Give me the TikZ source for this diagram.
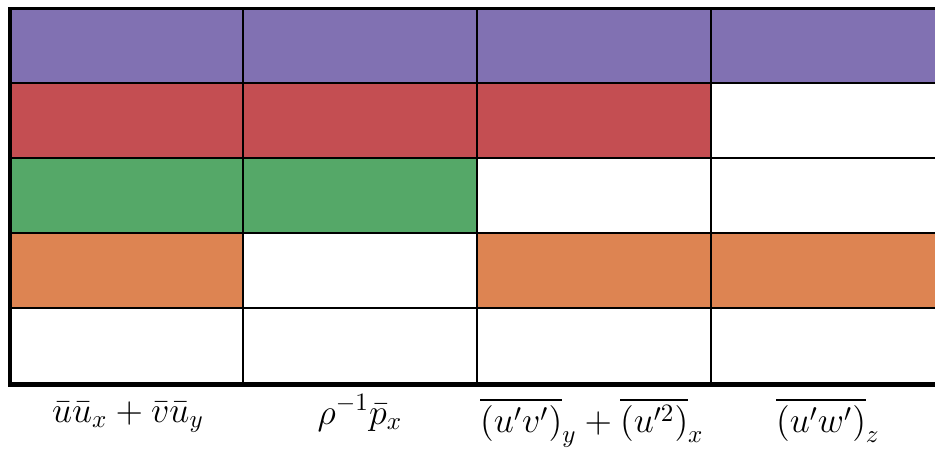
\documentclass[tikz,border=0pt]{standalone}
\usepackage{amsmath}
\definecolor{cpurple}{RGB}{129,113,178}
\definecolor{cred}{RGB}{196,78,82}
\definecolor{cgreen}{RGB}{85,168,104}
\definecolor{corange}{RGB}{221,132,82}
\tikzset{
  gridline/.style={line width=0.8pt, black},
  outerline/.style={line width=1.7pt, black},
  lbl/.style={anchor=base, inner sep=0pt, font=\fontsize{14.4}{17}\selectfont}
}
\begin{document}
\begin{tikzpicture}[x=0.4pt,y=-0.4pt]
\useasboundingbox (0,0) rectangle (935,454);
\begin{scope}
\clip (0,0) rectangle (935,454);
% fills
\fill[cpurple] (10,8) rectangle (960,83);
\fill[cred] (10,83) rectangle (711,158);
\fill[cgreen] (10,158) rectangle (477,233);
\fill[corange] (10,233) rectangle (243,308);
\fill[corange] (477,233) rectangle (960,308);
% horizontal lines
\foreach \yy in {83,158,233,308} \draw[gridline] (10,\yy) -- (960,\yy);
% vertical lines
\foreach \xx in {243,477,711} \draw[gridline] (\xx,8) -- (\xx,384);
% outer frame
\draw[line width=1.2pt] (8,8) -- (960,8);
\draw[outerline] (10,7) -- (10,385);
\draw[line width=2pt] (8,384) -- (960,384);
\end{scope}
% labels
\node[lbl] (l1) at (128,422) {$\bar u\bar u_x + \bar v\bar u_y$};
\node[lbl] (l2) at (360,424) {$\rho^{-1}\bar p_x$};
\node[lbl] (l3) at (592,432) {$\overline{(u'v')}_y + \overline{(u'^2)}_x$};
\node[lbl] (l4) at (828,432) {$\overline{(u'w')}_z$};
\end{tikzpicture}
\end{document}
